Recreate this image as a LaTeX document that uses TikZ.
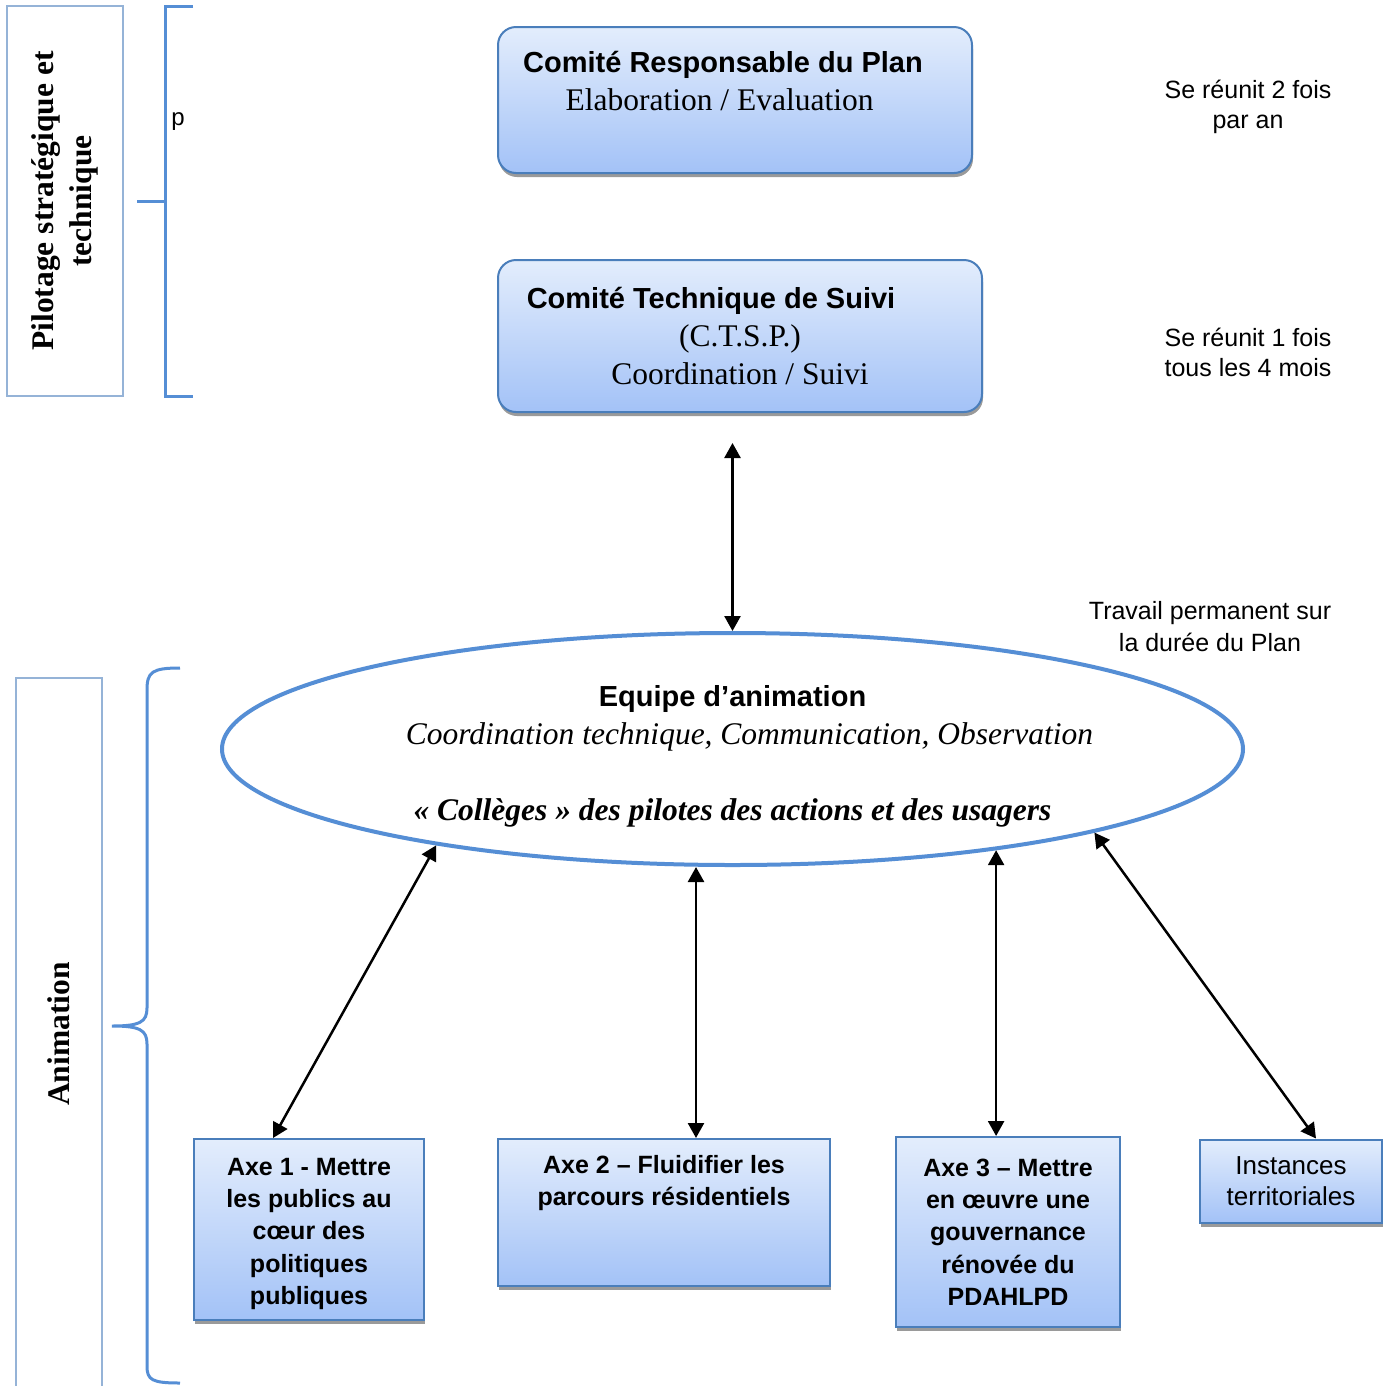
\documentclass[tikz,border=0pt]{standalone}
\usepackage{fontspec}
\setmainfont{Liberation Serif}
\setsansfont{Liberation Sans}
\usepackage{xcolor}
\definecolor{BoxBlue}{HTML}{4A7EBB}
\definecolor{BraceBlue}{HTML}{558ED5}
\definecolor{PaleBlue}{HTML}{95B3D7}
\definecolor{FillTop}{HTML}{E3EDFC}
\definecolor{FillBottom}{HTML}{A3C2F7}
\definecolor{ShadowGray}{HTML}{9A9A9A}
\usetikzlibrary{shapes.geometric, arrows.meta, shadows}

\newcommand{\serifsize}{\fontsize{31.5}{38}\selectfont}
\newcommand{\titre}[1]{{\sffamily\bfseries\fontsize{29}{38}\selectfont #1}}

\tikzset{
  comite/.style={draw=BoxBlue, line width=2pt, rounded corners=18pt, top color=FillTop, bottom color=FillBottom,
    drop shadow={shadow xshift=1pt, shadow yshift=-4pt, fill=ShadowGray, opacity=1}, align=center, inner sep=0pt, font=\serifsize},
  axe/.style={draw=BoxBlue, line width=2pt, top color=FillTop, bottom color=FillBottom,
    drop shadow={shadow xshift=1pt, shadow yshift=-4pt, fill=ShadowGray, opacity=1}, align=center, inner sep=0pt,
    font=\sffamily\bfseries\fontsize{25}{32.3}\selectfont},
  cadre/.style={draw=PaleBlue, line width=1.5pt, fill=white, rotate=90, align=center, inner sep=0pt,
    font=\bfseries\serifsize},
  note/.style={align=center, font=\sffamily\fontsize{25}{30}\selectfont},
  accolade/.style={draw=BraceBlue, line width=3pt},
  fleche/.style={line width=2.5pt, {Triangle[length=15pt,width=16pt]}-{Triangle[length=15pt,width=16pt]}}
}

\begin{document}
\begin{tikzpicture}[x=1pt, y=-1pt]
    \useasboundingbox (0,0) rectangle (1387,1385);
    \fill[white] (0,0) rectangle (1387,1385);

    % Side labels and brackets
    \node (pilotage) [cadre, minimum width=390pt, minimum height=116pt] at (65,201) {Pilotage stratégique et\\technique};
    \node (animation) [cadre, minimum width=712pt, minimum height=86pt] at (59,1034) {Animation};
    \draw[accolade] (193,6) -- (165,6) -- (165,396) -- (193,396);
    \draw[accolade] (137,201) -- (165,201);
    \draw[accolade] (180,668) .. controls (152,668) and (147,672) .. (147,690) -- (147,1008)
        .. controls (147,1022) and (140,1026) .. (112,1026)
        .. controls (140,1026) and (147,1030) .. (147,1044) -- (147,1366)
        .. controls (147,1380) and (152,1383) .. (180,1383);
    \node (p) [font=\sffamily\fontsize{24}{28}\selectfont] at (178,122) {p};

    % Committees
    \node (crp) [comite, minimum width=474pt, minimum height=146pt] at (735,100)
        {\titre{Comité Responsable du Plan}\hspace*{24pt}\null\\Elaboration / Evaluation\hspace*{31pt}\null\\~};
    \node (cts) [comite, minimum width=484pt, minimum height=152pt] at (740,336)
        {\titre{Comité Technique de Suivi}\hspace*{58pt}\null\\(C.T.S.P.)\\Coordination / Suivi};

    % Meeting rhythm
    \node (rythme1) [note] at (1248,107) {Se réunit 2 fois\\par an};
    \node (rythme2) [note] at (1248,352) {Se réunit 1 fois\\tous les 4 mois};
    \node (permanent) [note, font=\sffamily\fontsize{25}{32}\selectfont] at (1210,627) {Travail permanent sur\\la durée du Plan};

    % Team
    \node (anim) [ellipse, draw=BraceBlue, line width=4pt, minimum width=1021pt, minimum height=232pt,
        inner sep=0pt] at (732.5,749) {};
    \node (equipe) [align=center, font=\serifsize] at (732.5,756)
        {\titre{Equipe d’animation}\\\hspace*{34pt}\textit{Coordination technique, Communication, Observation}\\~\\
         \textbf{\textit{«~Collèges~» des pilotes des actions et des usagers}}};

    % Axes
    \node (axe1) [axe, minimum width=230pt, minimum height=181pt] at (309,1229.5)
        {\rule{0pt}{26pt}Axe 1 - Mettre\\les publics au\\cœur des\\politiques\\publiques};
    \node (axe2) [axe, minimum width=332pt, minimum height=147pt] at (664,1212.5)
        {Axe 2 – Fluidifier les\\parcours résidentiels\\~\\~};
    \node (axe3) [axe, minimum width=224pt, minimum height=190pt] at (1008,1232)
        {Axe 3 – Mettre\\en œuvre une\\gouvernance\\rénovée du\\PDAHLPD};
    \node (inst) [axe, font=\sffamily\fontsize{26}{31}\selectfont, minimum width=182pt, minimum height=83pt] at (1291,1181)
        {Instances\\territoriales};

    % Links
    \draw[fleche, shorten <=30pt] (cts.south -| anim.north) -- (anim.north);
    \draw[fleche] ([xshift=-36pt]axe1.north) -- (anim.198);
    \draw[fleche] ([xshift=32pt]axe2.north) -- ([xshift=32pt]axe2.north |- anim.south);
    \draw[fleche] (anim.339.4 |- axe3.north) -- (anim.339.4);
    \draw[fleche] ([xshift=25pt]inst.north) -- (anim.347.5);
\end{tikzpicture}
\end{document}
